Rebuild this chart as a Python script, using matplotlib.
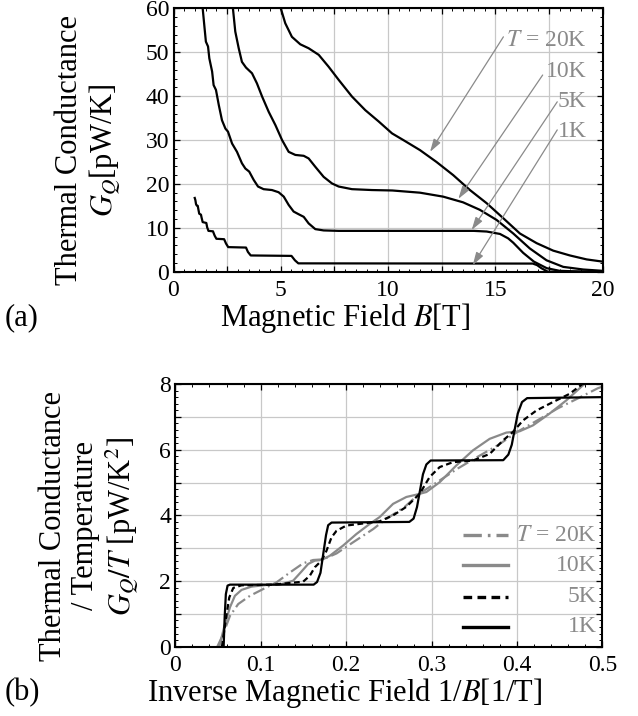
import matplotlib
matplotlib.use("Agg")
from matplotlib import pyplot as plt
from matplotlib.ticker import MultipleLocator, FuncFormatter

plt.rcParams['font.family'] = ['Liberation Serif', 'DejaVu Serif']
plt.rcParams['mathtext.fontset'] = 'stix'

GRAY = '#8a8a8a'

# ---- panel (a): G_Q vs B ----
B_1K = [0.99, 1.02, 1.05, 1.08, 1.13, 1.16, 1.20, 1.28, 1.31, 1.36, 1.53, 1.57, 1.63,
        1.84, 1.92, 2.00, 2.36, 2.45, 2.55, 3.38, 3.47, 3.60, 5.50, 5.66, 5.82,
        16.75, 16.95, 17.15, 17.45, 20.0]
G_1K = [16.8, 16.3, 15.4, 15.1, 15.0, 14.2, 13.2, 13.0, 12.3, 11.3, 11.1, 10.1, 9.3,
        9.2, 8.2, 7.5, 7.4, 6.4, 5.6, 5.5, 4.5, 3.7, 3.6, 2.6, 1.9,
        1.85, 1.5, 0.8, 0.0, 0.0]

B_5K = [1.36, 1.45, 1.51, 1.61, 1.67, 1.80, 1.87, 1.98, 2.11, 2.26, 2.42, 2.54, 2.73,
        2.96, 3.19, 3.35, 3.53, 3.74, 3.94, 4.20, 4.59, 4.90, 5.14, 5.37, 5.60, 5.83,
        6.07, 6.30, 6.61, 7.00, 7.70, 10.0, 12.0, 14.0, 14.6, 15.22, 15.6, 15.84, 16.3,
        16.8, 17.4, 18.0, 19.0, 20.0]
G_5K = [60, 55.4, 52.4, 51.3, 48.6, 45.6, 42.5, 41.4, 38.0, 34.5, 32.6, 31.9, 29.2,
        27.3, 24.7, 23.5, 22.8, 20.9, 19.4, 18.8, 18.6, 18.1, 17.1, 15.2, 13.7, 13.1,
        12.5, 11.0, 9.7, 9.4, 9.3, 9.3, 9.3, 9.3, 9.15, 8.6, 7.6, 6.6, 4.3,
        2.3, 0.8, 0.2, 0.03, 0.0]

B_10K = [2.77, 2.88, 3.04, 3.19, 3.38, 3.66, 3.89, 4.13, 4.44, 4.75, 5.06, 5.37, 5.68,
         6.07, 6.30, 6.61, 7.00, 7.39, 7.70, 8.32, 9.25, 10.2, 11.49, 12.57, 13.5,
         14.28, 15.06, 15.84, 16.61, 17.39, 18.17, 19.1, 20.0]
G_10K = [60, 54.7, 50.9, 47.8, 46.5, 45.2, 42.9, 39.9, 36.4, 33.4, 30.0, 27.3, 26.6,
         26.4, 25.8, 23.9, 21.6, 20.1, 19.4, 18.8, 18.6, 18.5, 18.0, 17.1, 15.8,
         14.1, 11.8, 8.7, 5.3, 2.6, 1.1, 0.5, 0.2]

B_20K = [5.0, 5.21, 5.52, 5.91, 6.30, 6.77, 7.23, 7.70, 8.32, 8.94, 9.57, 10.19, 10.71,
         11.49, 12.26, 13.04, 13.82, 14.6, 15.37, 16.15, 16.93, 17.7, 18.48, 19.26, 20.0]
G_20K = [60, 56.6, 53.5, 51.8, 50.9, 49.4, 46.7, 43.7, 39.9, 36.8, 34.2, 31.5, 30.0,
         27.7, 25.0, 22.0, 18.6, 15.6, 12.2, 8.7, 6.5, 4.8, 3.7, 2.8, 2.3]

# ---- panel (b): G_Q/T vs 1/B ----
iB_1K = [0.0566, 0.0578, 0.0592, 0.0612, 0.0640, 0.1620, 0.1660, 0.1700, 0.1731, 0.1765,
         0.1790, 0.1830, 0.2740, 0.2790, 0.2830, 0.2862, 0.2900, 0.2940, 0.2990, 0.3840,
         0.3900, 0.3940, 0.3973, 0.4010, 0.4060, 0.4120, 0.5]
GT_1K = [0.0, 0.9, 1.6, 1.86, 1.89, 1.89, 1.97, 2.25, 2.8, 3.4,
         3.7, 3.78, 3.8, 3.9, 4.25, 4.71, 5.25, 5.55, 5.67, 5.68,
         5.85, 6.15, 6.6, 7.1, 7.45, 7.57, 7.6]

iB_5K = [0.0546, 0.0601, 0.0632, 0.0679, 0.0776, 0.1147, 0.1497, 0.1575, 0.1634, 0.1712,
         0.177, 0.1829, 0.1888, 0.2004, 0.216, 0.2394, 0.255, 0.2706, 0.2862, 0.2979,
         0.3096, 0.3251, 0.3486, 0.3681, 0.3837, 0.3954, 0.4071, 0.4227, 0.4422, 0.4617,
         0.4773, 0.49]
GT_5K = [0.0, 1.0, 1.5, 1.79, 1.87, 1.89, 1.98, 2.16, 2.42, 2.62,
         2.92, 3.33, 3.53, 3.69, 3.74, 3.82, 4.0, 4.26, 4.66, 5.17,
         5.47, 5.62, 5.67, 5.87, 6.28, 6.54, 6.89, 7.19, 7.45, 7.7,
         8.01, 8.2]

iB_10K = [0.0515, 0.0581, 0.064, 0.0698, 0.0776, 0.0893, 0.107, 0.1225, 0.138, 0.1478,
          0.1556, 0.1634, 0.1712, 0.181, 0.1965, 0.212, 0.2277, 0.2394, 0.255, 0.2706,
          0.2823, 0.294, 0.3096, 0.3291, 0.3486, 0.3681, 0.3876, 0.4032, 0.4188, 0.4383,
          0.4578, 0.4773, 0.49]
GT_10K = [0.0, 0.69, 1.2, 1.55, 1.73, 1.83, 1.88, 1.89, 2.01, 2.29,
          2.52, 2.62, 2.64, 2.77, 3.08, 3.43, 3.74, 3.95, 4.35, 4.56,
          4.63, 4.71, 5.01, 5.52, 5.98, 6.33, 6.52, 6.56, 6.74, 7.1,
          7.5, 7.96, 8.2]

iB_20K = [0.0492, 0.0562, 0.064, 0.0737, 0.0874, 0.107, 0.1186, 0.1342, 0.1497, 0.1614,
          0.1731, 0.1888, 0.2082, 0.2316, 0.2453, 0.2687, 0.2862, 0.3077, 0.331, 0.3545,
          0.378, 0.401, 0.4245, 0.448, 0.4713, 0.4947, 0.5]
GT_20K = [0.0, 0.39, 0.94, 1.3, 1.55, 1.81, 1.96, 2.26, 2.54, 2.64,
          2.66, 2.84, 3.18, 3.58, 3.86, 4.26, 4.67, 5.03, 5.43, 5.79,
          6.14, 6.55, 6.9, 7.26, 7.56, 7.87, 7.92]

temp_labels = [r'$T$ = 20K', '10K', '5K', '1K']

fig = plt.figure(figsize=(6.38, 7.16), dpi=100)
W, H = 638.0, 716.0
axa = fig.add_axes([173.5 / W, 1 - 271.7 / H, 429 / W, 263.4 / H])
axb = fig.add_axes([175.3 / W, 1 - 646.7 / H, 427 / W, 262.7 / H])


def style(ax):
    ax.grid(True, which='major', color='#c8c8c8', lw=0.9)
    ax.set_axisbelow(True)
    for s in ax.spines.values():
        s.set_linewidth(1.5)
    ax.tick_params(which='both', direction='in', top=True, right=True, labelsize=17)
    ax.tick_params(which='major', length=4, width=0.9)
    ax.tick_params(which='minor', length=2.2, width=0.7)
    ax.tick_params(axis='x', pad=6)
    ax.tick_params(axis='y', pad=3)


# panel (a)
for b, g in [(B_1K, G_1K), (B_5K, G_5K), (B_10K, G_10K), (B_20K, G_20K)]:
    axa.plot(b, g, color='black', lw=1.6)
axa.set_xlim(0, 20)
axa.set_ylim(0, 60)
axa.xaxis.set_major_locator(MultipleLocator(2.5))
axa.xaxis.set_minor_locator(MultipleLocator(0.5))
axa.xaxis.set_major_formatter(FuncFormatter(lambda v, p: f"{v:g}" if v % 5 == 0 else ""))
axa.yaxis.set_major_locator(MultipleLocator(10))
axa.yaxis.set_minor_locator(MultipleLocator(2))
style(axa)

# labels and arrows pointing at the curves
text_y = [52.6, 45.6, 38.7, 31.9]
arrow_from = [(15.38, 53.5), (17.21, 44.8), (17.89, 38.7), (17.89, 32.3)]
arrow_to = [(11.96, 27.3), (13.28, 16.6), (13.9, 9.5), (13.95, 1.5)]
for lab, ty, a0, a1 in zip(temp_labels, text_y, arrow_from, arrow_to):
    axa.text(19.26, ty, lab, ha='right', va='center', color=GRAY, fontsize=17)
    axa.annotate('', xy=a1, xytext=a0,
                 arrowprops=dict(arrowstyle='-|>,head_length=0.55,head_width=0.17',
                                 color=GRAY, lw=0.9, mutation_scale=14,
                                 shrinkA=0, shrinkB=0))

fig.text(0.1395, 1 - 150 / H, 'Thermal Conductance\n$G_Q$[pW/K]', rotation=90,
         ha='center', va='center', fontsize=22, linespacing=1.15, multialignment='center')
fig.text(345 / W, 1 - 318 / H, 'Magnetic Field $B$[T]', ha='center', va='center', fontsize=22)
fig.text(22 / W, 1 - 318 / H, '(a)', ha='center', va='center', fontsize=22)

# panel (b)
styles = [
    (iB_20K, GT_20K, GRAY, (0, (5.5, 1.8, 0.8, 1.8))),
    (iB_10K, GT_10K, GRAY, '-'),
    (iB_5K, GT_5K, 'black', (0, (2.6, 1.6))),
    (iB_1K, GT_1K, 'black', '-'),
]
for x, y, c, ls in styles:
    axb.plot(x, y, color=c, ls=ls, lw=1.6)
axb.set_xlim(0, 0.5)
axb.set_ylim(0, 8)
axb.xaxis.set_major_locator(MultipleLocator(0.1))
axb.xaxis.set_minor_locator(MultipleLocator(0.02))
axb.xaxis.set_major_formatter(FuncFormatter(lambda v, p: f"{v:g}"))
axb.yaxis.set_major_locator(MultipleLocator(1))
axb.yaxis.set_minor_locator(MultipleLocator(0.2))
axb.yaxis.set_major_formatter(FuncFormatter(lambda v, p: f"{v:g}" if round(v) % 2 == 0 else ""))
style(axb)

# legend drawn by hand: handle on the left, label right-aligned
leg_y = [0.425, 0.311, 0.19, 0.075]
for (x, y, c, ls), lab, ly in zip(styles, temp_labels, leg_y):
    axb.plot([0.674, 0.779], [ly, ly], color=c, ls=ls, lw=2.4, transform=axb.transAxes)
    axb.text(0.986, ly, lab, ha='right', va='center', color=GRAY, fontsize=17,
             transform=axb.transAxes)

fig.text(0.141, 1 - 526 / H, 'Thermal Conductance\n/ Temperature\n$G_Q/T$ [pW/K$^2$]',
         rotation=90, ha='center', va='center', fontsize=22, linespacing=1.15,
         multialignment='center')
fig.text(345 / W, 1 - 693 / H, 'Inverse Magnetic Field 1/$B$[1/T]', ha='center',
         va='center', fontsize=22)
fig.text(22 / W, 1 - 693 / H, '(b)', ha='center', va='center', fontsize=22)

fig.savefig('out.png', dpi=100)
